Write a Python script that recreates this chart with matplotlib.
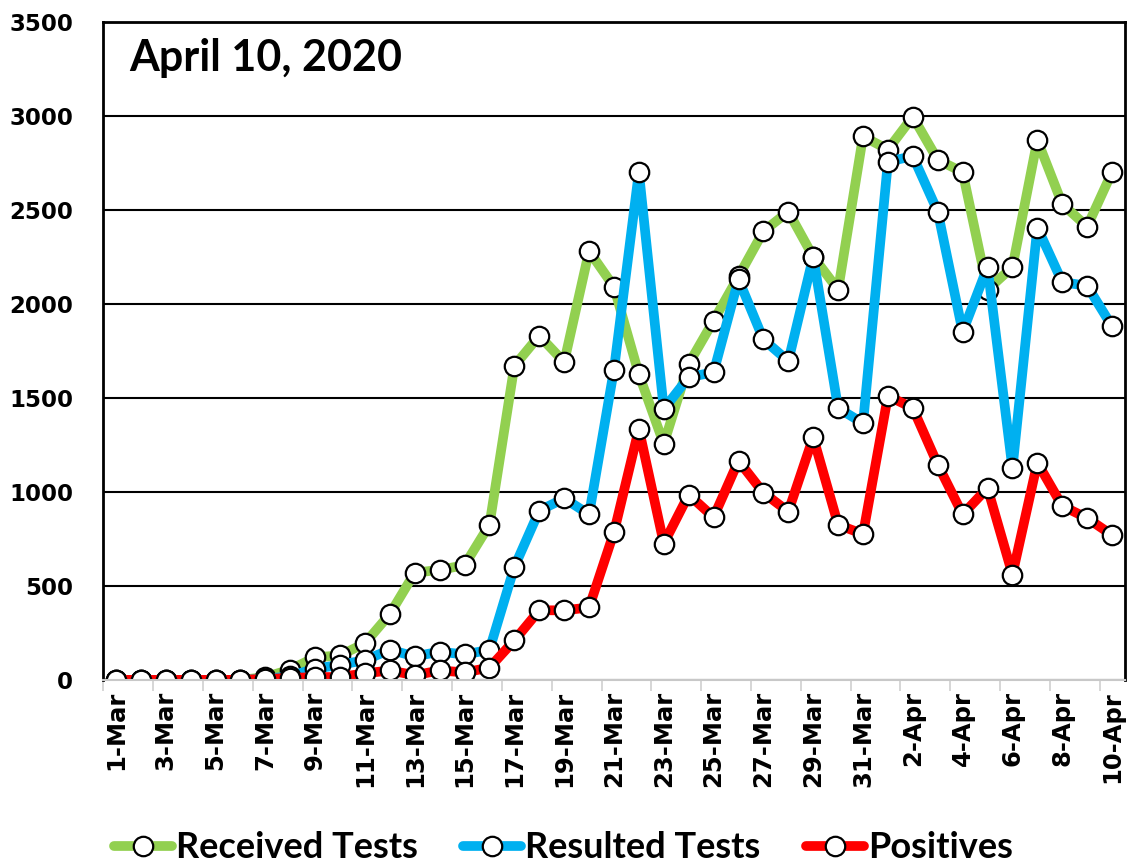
import matplotlib
matplotlib.use("Agg")
import matplotlib.pyplot as plt
import numpy as np

# daily values, 1-Mar .. 10-Apr
dates = [f"{d}-Mar" for d in range(1, 32)] + [f"{d}-Apr" for d in range(1, 11)]

received = [0, 0, 0, 0, 0, 0, 15, 55, 120, 130, 195, 350, 570, 585, 610, 825,
            1670, 1830, 1690, 2280, 2090, 1625, 1255, 1680, 1910, 2145, 2385, 2490,
            2250, 2075, 2890, 2820, 2995, 2765, 2700, 2075, 2195, 2870, 2530, 2410, 2700]
resulted = [0, 0, 0, 0, 0, 0, 5, 20, 60, 80, 105, 160, 125, 150, 135, 160,
            600, 900, 965, 880, 1650, 2700, 1440, 1610, 1635, 2130, 1810, 1695,
            2250, 1445, 1365, 2755, 2785, 2490, 1850, 2195, 1125, 2405, 2115, 2095, 1880]
positives = [0, 0, 0, 0, 0, 0, 5, 10, 15, 15, 35, 50, 25, 50, 40, 65,
             210, 370, 370, 385, 785, 1335, 725, 985, 865, 1165, 995, 895,
             1290, 825, 775, 1510, 1445, 1145, 880, 1020, 560, 1155, 925, 860, 770]

series = [("Received Tests", received, "#92d050"),
          ("Resulted Tests", resulted, "#00b0f0"),
          ("Positives", positives, "#ff0000")]

fig = plt.figure(figsize=(11.27, 8.65), dpi=100)
ax = fig.add_axes([0.0918, 0.214, 0.906, 0.761])

x = np.arange(len(dates))
for name, vals, col in series:
    ax.plot(x, vals, color=col, lw=7, marker="o", ms=14, mfc="white",
            mec="black", mew=1.6, label=name, solid_joinstyle="round",
            solid_capstyle="round")

ax.set_xlim(-0.5, len(dates) - 0.5)
ax.set_ylim(0, 3500)
ax.set_yticks(np.arange(0, 3501, 500))
ax.yaxis.grid(True, color="black", lw=1.5)
ax.set_axisbelow(True)

ax.set_xticks(x[::2])
ax.set_xticklabels(dates[::2], rotation=90)
ax.set_xticks(np.arange(-0.5, len(dates), 2), minor=True)
ax.tick_params(axis="x", which="major", length=0, pad=8)
ax.tick_params(axis="x", which="minor", length=8, color="#d0d0d0", width=1.2)
ax.tick_params(axis="y", length=0, pad=22)
for lab in ax.get_xticklabels():
    lab.set_fontfamily("DejaVu Sans")
    lab.set_fontweight("bold")
    lab.set_fontsize(17.5)
for lab in ax.get_yticklabels():
    lab.set_fontfamily("DejaVu Sans")
    lab.set_fontweight("bold")
    lab.set_fontsize(16.5)

for s in ["left", "top", "right"]:
    ax.spines[s].set_color("black")
    ax.spines[s].set_linewidth(2)
ax.spines["bottom"].set_color("#c8c8c8")
ax.spines["bottom"].set_linewidth(1.5)

ax.text(0.025, 0.945, "April 10, 2020", transform=ax.transAxes, ha="left",
        va="center", fontsize=31, fontweight="bold", family="Lato")

leg = fig.legend(loc="center", bbox_to_anchor=(0.5, 0.02), ncol=3, frameon=False,
                 prop={"family": "Lato", "weight": "bold", "size": 26},
                 handlelength=1.6, handletextpad=0.12, columnspacing=1.25,
                 borderaxespad=0)

fig.savefig("out.png", dpi=100)
